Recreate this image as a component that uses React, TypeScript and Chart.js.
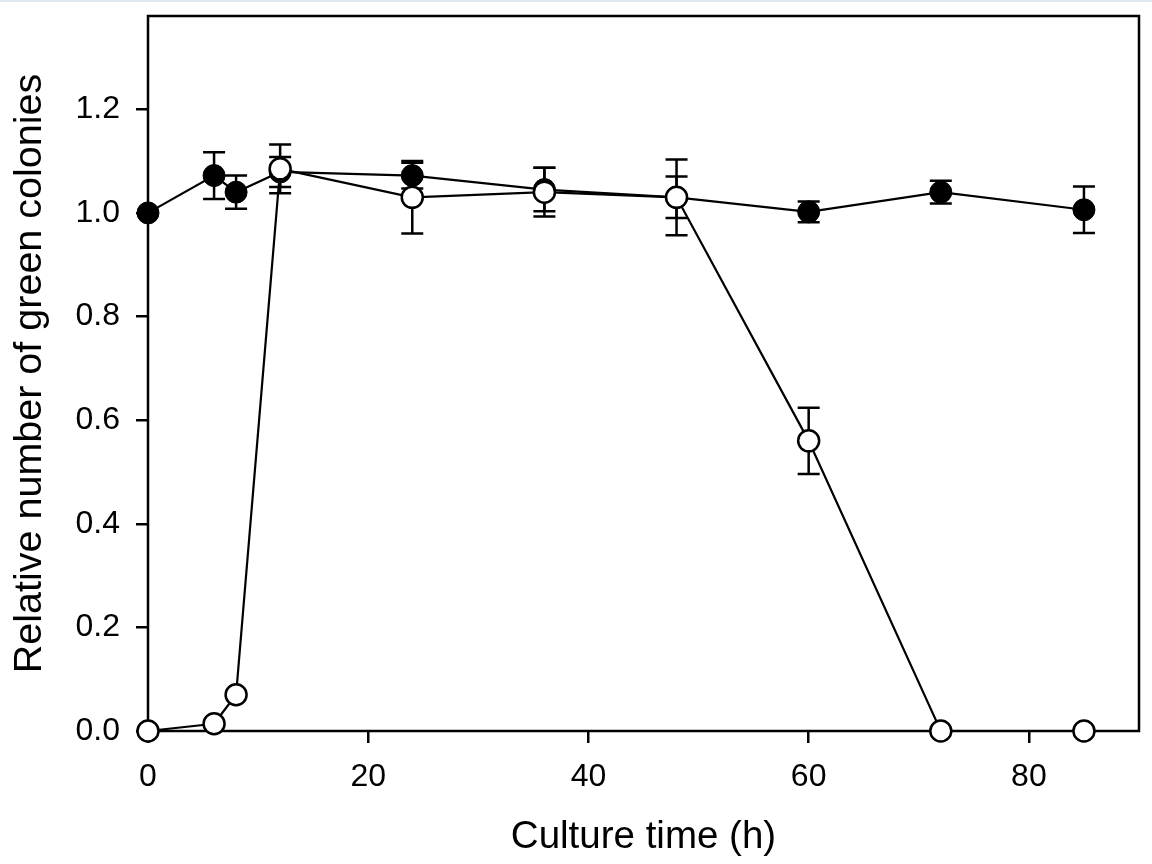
import React, { useEffect, useRef } from "react";
import { Chart, registerables } from "chart.js";

Chart.register(...registerables);

const timeHours = [0, 6, 8, 12, 24, 36, 48, 60, 72, 85];
const filledValues = [1.0, 1.072, 1.04, 1.079, 1.072, 1.045, 1.03, 1.002, 1.04, 1.006];
const filledErrors = [0, 0.045, 0.032, 0.029, 0.025, 0.042, 0.04, 0.02, 0.022, 0.045];
const openValues = [0, 0.014, 0.07, 1.085, 1.03, 1.04, 1.03, 0.56, 0, 0];
const openErrors = [0, 0, 0, 0.047, 0.07, 0.047, 0.073, 0.064, 0, 0];
const xTickValues = [0, 20, 40, 60, 80];
const yTickValues = [0, 0.2, 0.4, 0.6, 0.8, 1.0, 1.2];
const xTitle = "Culture time (h)";
const yTitle = "Relative number of green colonies";

const FONT = "'Liberation Sans', Arial, Helvetica, sans-serif";

const errorBarPlugin = {
  id: "errorBarsAndFrame",
  beforeDatasetsDraw(chart: any) {
    const ctx = chart.ctx;
    const xs = chart.scales.x;
    const ys = chart.scales.y;
    const area = chart.chartArea;
    ctx.save();
    ctx.strokeStyle = "#000";
    ctx.lineWidth = 2.5;
    ctx.strokeRect(area.left, area.top, area.right - area.left, area.bottom - area.top);
    ctx.lineWidth = 2.5;
    chart.data.datasets.forEach((ds: any) => {
      const errs = ds.errors || [];
      ds.data.forEach((pt: any, i: number) => {
        const e = errs[i];
        if (!e) return;
        const px = xs.getPixelForValue(pt.x);
        const yt = ys.getPixelForValue(pt.y + e);
        const yb = ys.getPixelForValue(pt.y - e);
        const hw = 11;
        ctx.beginPath();
        ctx.moveTo(px, yt);
        ctx.lineTo(px, yb);
        ctx.moveTo(px - hw, yt);
        ctx.lineTo(px + hw, yt);
        ctx.moveTo(px - hw, yb);
        ctx.lineTo(px + hw, yb);
        ctx.stroke();
      });
    });
    ctx.restore();
  },
};

export default function App() {
  const canvasRef = useRef<HTMLCanvasElement | null>(null);

  useEffect(() => {
    const canvas = canvasRef.current;
    if (!canvas) return;
    const openData = timeHours.map((x, i) => ({ x, y: openValues[i] }));
    const filledData = timeHours.map((x, i) => ({ x, y: filledValues[i] }));

    const chart = new Chart(canvas, {
      type: "line",
      data: {
        datasets: [
          {
            label: "open",
            data: openData,
            errors: openErrors,
            borderColor: "#000",
            borderWidth: 2.2,
            backgroundColor: "#fff",
            pointBackgroundColor: "#fff",
            pointBorderColor: "#000",
            pointBorderWidth: 2.5,
            pointRadius: 10.5,
            pointHoverRadius: 10.5,
            tension: 0,
            clip: false,
          } as any,
          {
            label: "filled",
            data: filledData,
            errors: filledErrors,
            borderColor: "#000",
            borderWidth: 2.2,
            backgroundColor: "#000",
            pointBackgroundColor: "#000",
            pointBorderColor: "#000",
            pointBorderWidth: 1,
            pointRadius: 11,
            pointHoverRadius: 11,
            tension: 0,
            clip: false,
          } as any,
        ],
      },
      options: {
        responsive: false,
        animation: false,
        devicePixelRatio: 1,
        layout: { padding: { top: 16, right: 9, left: 0, bottom: 0 } },
        plugins: {
          legend: { display: false },
          tooltip: { enabled: false },
        },
        scales: {
          x: {
            type: "linear",
            min: 0,
            max: 90,
            afterBuildTicks: (s: any) => {
              s.ticks = xTickValues.map((v) => ({ value: v }));
            },
            afterFit: (s: any) => {
              s.height = 133;
              s.paddingLeft = 0;
              s.paddingRight = 0;
            },
            ticks: {
              font: { family: FONT, size: 32 },
              color: "#000",
              padding: 15,
              maxRotation: 0,
              callback: (v: any) => String(v),
            },
            grid: {
              drawOnChartArea: false,
              drawTicks: true,
              tickLength: 12,
              color: "#000",
              lineWidth: 2.5,
            },
            border: { display: false },
            title: {
              display: true,
              text: xTitle,
              color: "#000",
              font: { family: FONT, size: 38.5 },
              padding: { top: 0, bottom: 4 },
            },
          },
          y: {
            type: "linear",
            min: 0,
            max: 1.38,
            afterBuildTicks: (s: any) => {
              s.ticks = yTickValues.map((v) => ({ value: v }));
            },
            afterFit: (s: any) => {
              s.width = 148;
              s.paddingTop = 0;
              s.paddingBottom = 0;
            },
            ticks: {
              font: { family: FONT, size: 32 },
              color: "#000",
              padding: 16,
              callback: (v: any) => Number(v).toFixed(1),
            },
            grid: {
              drawOnChartArea: false,
              drawTicks: true,
              tickLength: 12,
              color: "#000",
              lineWidth: 2.5,
            },
            border: { display: false },
            title: {
              display: true,
              text: yTitle,
              color: "#000",
              font: { family: FONT, size: 39.5 },
              padding: { top: 6, bottom: 0 },
            },
          },
        },
      } as any,
      plugins: [errorBarPlugin],
    });

    return () => {
      chart.destroy();
    };
  }, []);

  return (
    <div
      style={{
        position: "absolute",
        left: 0,
        top: 0,
        width: 1152,
        height: 864,
        background: "#fff",
      }}
    >
      <canvas ref={canvasRef} width={1152} height={864} style={{ display: "block" }} />
      <div
        style={{
          position: "absolute",
          left: 0,
          top: 0,
          width: 1152,
          height: 2,
          background: "#dfe8ee",
        }}
      />
    </div>
  );
}
